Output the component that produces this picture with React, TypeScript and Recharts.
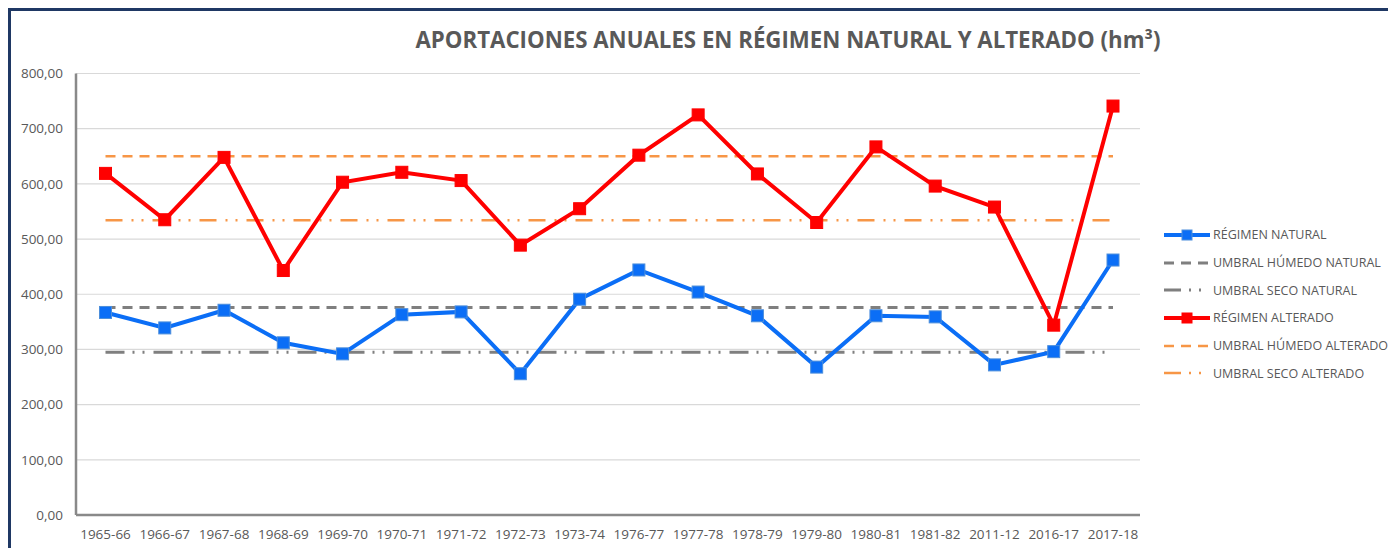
import React from "react";
import { LineChart, Line, XAxis, YAxis, CartesianGrid } from "recharts";

const CATEGORIES = [
    "1965-66", "1966-67", "1967-68", "1968-69", "1969-70", "1970-71", "1971-72", "1972-73", "1973-74",
    "1976-77", "1977-78", "1978-79", "1979-80", "1980-81", "1981-82", "2011-12", "2016-17", "2017-18",
];
const REGIMEN_NATURAL = [367, 339, 371, 312, 292, 363, 368, 256, 391, 444, 404, 361, 268, 361, 359, 272, 296, 462];
const REGIMEN_ALTERADO = [619, 535, 648, 443, 603, 621, 606, 489, 555, 652, 725, 618, 530, 667, 596, 558, 344, 741];
const UMBRAL_HUMEDO_NATURAL = 376;
const UMBRAL_SECO_NATURAL = 295;
const UMBRAL_HUMEDO_ALTERADO = 650;
const UMBRAL_SECO_ALTERADO = 534;
const Y_TICKS = [0, 100, 200, 300, 400, 500, 600, 700, 800];

const TITLE = "APORTACIONES ANUALES EN RÉGIMEN NATURAL Y ALTERADO (hm³)";

const BLUE = "#0B6EF6";
const RED = "#FF0000";
const GRAY = "#7F7F7F";
const ORANGE = "#F79646";
const TEXT = "#595959";
const FONT = "'Open Sans', sans-serif";

const data = CATEGORIES.map((c, i) => ({
    name: c,
    natural: REGIMEN_NATURAL[i],
    alterado: REGIMEN_ALTERADO[i],
    humedoNat: UMBRAL_HUMEDO_NATURAL,
    secoNat: UMBRAL_SECO_NATURAL,
    humedoAlt: UMBRAL_HUMEDO_ALTERADO,
    secoAlt: UMBRAL_SECO_ALTERADO,
}));

// legend entries, same order as the original
const LEGEND = [
    { label: "RÉGIMEN NATURAL", color: BLUE, width: 4, dash: undefined, marker: true, border: "#4C8EDB" },
    { label: "UMBRAL HÚMEDO NATURAL", color: GRAY, width: 3, dash: "10 7", marker: false, border: "" },
    { label: "UMBRAL SECO NATURAL", color: GRAY, width: 3, dash: "17 8 2 8 2 9", marker: false, border: "" },
    { label: "RÉGIMEN ALTERADO", color: RED, width: 4, dash: undefined, marker: true, border: RED },
    { label: "UMBRAL HÚMEDO ALTERADO", color: ORANGE, width: 2.5, dash: "10 7", marker: false, border: "" },
    { label: "UMBRAL SECO ALTERADO", color: ORANGE, width: 2.5, dash: "17 8 2 8 2 9", marker: false, border: "" },
];

const squareDot = (fill: string, stroke: string, prefix: string) => (p: any) => (
    <rect
        key={`${prefix}-${p.index}`}
        x={p.cx - 6}
        y={p.cy - 6}
        width={12}
        height={12}
        fill={fill}
        stroke={stroke}
        strokeWidth={1}
    />
);

const fmt = (v: number) => v.toFixed(2).replace(".", ",");

export default function App() {
    return (
        <div
            style={{
                position: "relative",
                width: 1385,
                height: 537,
                borderTop: "3px solid #1F3864",
                borderLeft: "3px solid #1F3864",
                fontFamily: FONT,
            }}
        >
            <svg width={1385} height={60} style={{ position: "absolute", left: 0, top: 0 }}>
                <text
                    x={777}
                    y={37}
                    textAnchor="middle"
                    fontSize={22.5}
                    fontWeight="bold"
                    fill={TEXT}
                    fontFamily={FONT}
                    textLength={745}
                    lengthAdjust="spacingAndGlyphs"
                >
                    {TITLE}
                </text>
            </svg>

            <div style={{ position: "absolute", left: 0, top: 0 }}>
                <LineChart
                    width={1385}
                    height={537}
                    data={data}
                    margin={{ top: 62.5, right: 256, bottom: 3, left: 0 }}
                >
                    <CartesianGrid vertical={false} stroke="#D9D9D9" strokeWidth={1.2} />
                    <XAxis
                        dataKey="name"
                        height={30}
                        tickLine={false}
                        tickSize={0}
                        tickMargin={14}
                        padding={{ left: 29.5, right: 27 }}
                        axisLine={{ stroke: "#898989", strokeWidth: 2.5 }}
                        tick={{ fill: TEXT, fontSize: 13.5, fontFamily: FONT }}
                        interval={0}
                    />
                    <YAxis
                        width={65}
                        domain={[0, 800]}
                        ticks={Y_TICKS}
                        tickFormatter={fmt}
                        tickLine={false}
                        tickSize={0}
                        tickMargin={13}
                        axisLine={{ stroke: "#898989", strokeWidth: 2.5 }}
                        tick={{ fill: TEXT, fontSize: 13.5, fontFamily: FONT }}
                    />
                    <Line dataKey="humedoNat" stroke={GRAY} strokeWidth={3} strokeDasharray="10 7" dot={false} activeDot={false} isAnimationActive={false} />
                    <Line dataKey="secoNat" stroke={GRAY} strokeWidth={3} strokeDasharray="19 8 2 8 2 9" dot={false} activeDot={false} isAnimationActive={false} />
                    <Line dataKey="humedoAlt" stroke={ORANGE} strokeWidth={2.5} strokeDasharray="10 7" dot={false} activeDot={false} isAnimationActive={false} />
                    <Line dataKey="secoAlt" stroke={ORANGE} strokeWidth={2.5} strokeDasharray="17 9 2 8 2 9" dot={false} activeDot={false} isAnimationActive={false} />
                    <Line
                        dataKey="natural"
                        stroke={BLUE}
                        strokeWidth={4}
                        dot={squareDot(BLUE, "#4C8EDB", "n")}
                        activeDot={false}
                        isAnimationActive={false}
                    />
                    <Line
                        dataKey="alterado"
                        stroke={RED}
                        strokeWidth={4}
                        dot={squareDot(RED, RED, "a")}
                        activeDot={false}
                        isAnimationActive={false}
                    />
                </LineChart>
            </div>

            <div style={{ position: "absolute", left: 1153, top: 210 }}>
                {LEGEND.map((item) => (
                    <div key={item.label} style={{ display: "flex", alignItems: "center", height: 27.7 }}>
                        <svg width={46} height={14}>
                            <line
                                x1={0}
                                x2={46}
                                y1={7}
                                y2={7}
                                stroke={item.color}
                                strokeWidth={item.width}
                                strokeDasharray={item.dash}
                            />
                            {item.marker && (
                                <rect x={18} y={2} width={10} height={10} fill={item.color} stroke={item.border} strokeWidth={1} />
                            )}
                        </svg>
                        <span style={{ marginLeft: 3, fontSize: 12.5, color: TEXT, whiteSpace: "nowrap" }}>{item.label}</span>
                    </div>
                ))}
            </div>
        </div>
    );
}
